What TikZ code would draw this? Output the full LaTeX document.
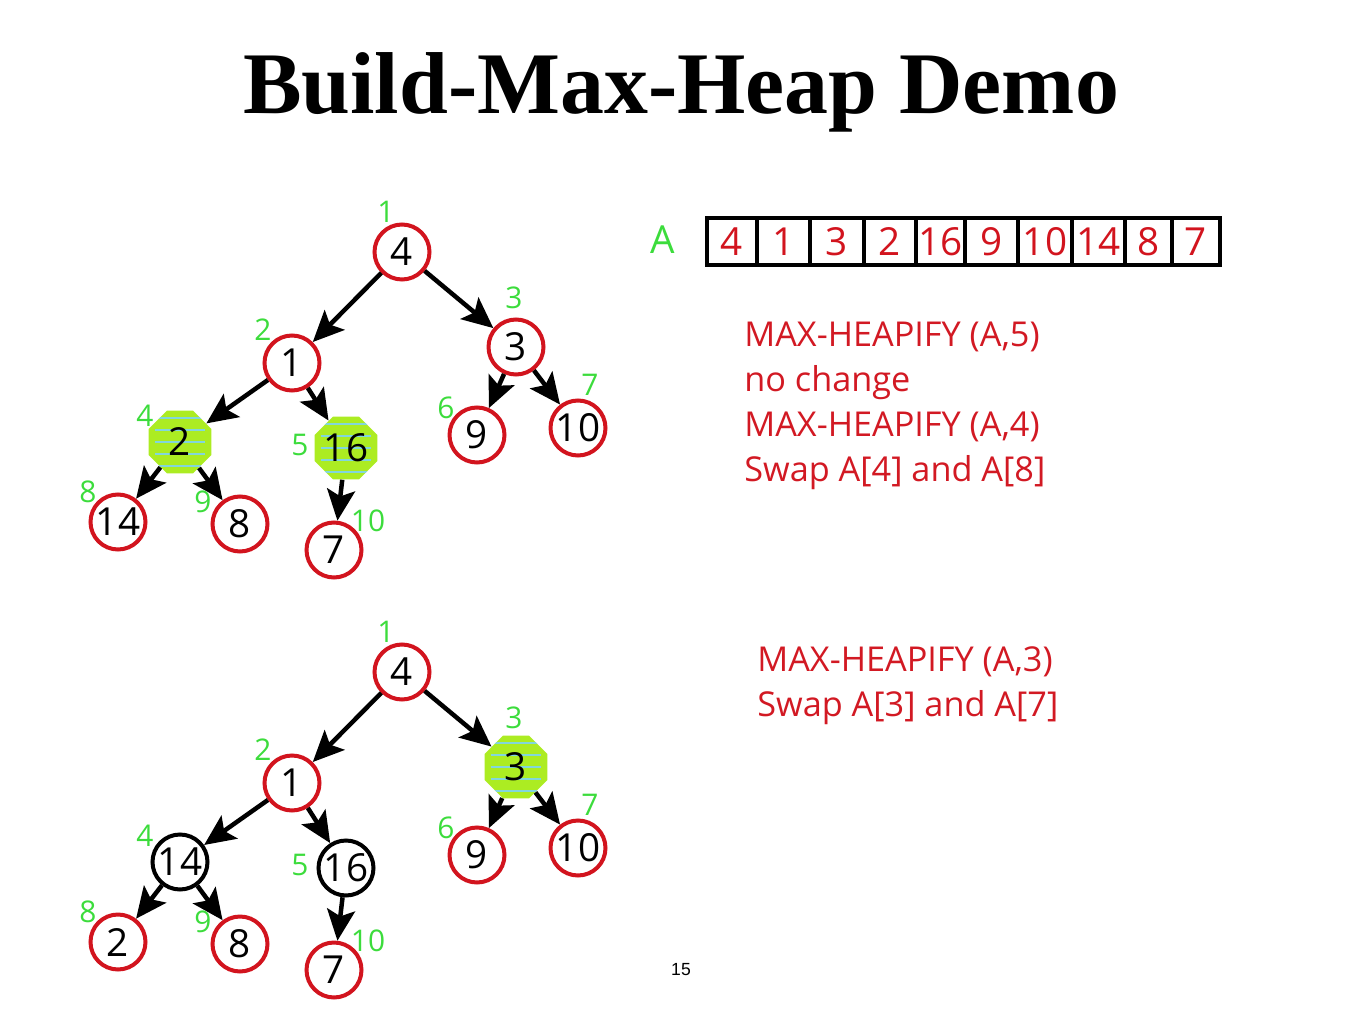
\documentclass[tikz,border=0pt]{standalone}
\usepackage{fontspec}
\setmainfont{Liberation Serif}
\setsansfont{Open Sans}
\newfontfamily\pagefont{Liberation Sans}
\usetikzlibrary{arrows.meta,shapes.geometric,positioning}

\definecolor{nodered}{RGB}{210,20,30}
\definecolor{idxgreen}{RGB}{60,220,60}
\definecolor{txtred}{RGB}{210,25,35}
\definecolor{blob}{RGB}{172,236,34}
\definecolor{stripe}{RGB}{130,214,220}

\tikzset{
  title/.style={font=\bfseries\fontsize{50}{60}\selectfont, inner sep=0pt},
  heap/.style={circle, draw=nodered, line width=0.08cm, minimum size=1.1cm,
    inner sep=0pt, font=\sffamily\fontsize{22}{26}\selectfont},
  moved/.style={heap, draw=black},
  hot/.style={regular polygon, regular polygon sides=8, fill=blob,
    minimum size=1.36cm, inner sep=0pt, font=\sffamily\fontsize{22}{26}\selectfont,
    path picture={
      \foreach \k in {-2,...,2}
        \draw[stripe, line width=0.05cm]
          ([yshift=\k*0.24cm, xshift=0.12cm]path picture bounding box.west) --
          ([yshift=\k*0.24cm, xshift=-0.12cm]path picture bounding box.east);
    }},
  idx/.style={text=idxgreen, font=\sffamily\fontsize{17}{20}\selectfont, inner sep=0pt},
  arr/.style={-{Stealth[length=0.62cm,width=0.56cm,inset=0.13cm]}, line width=0.09cm},
  cell/.style={draw, line width=0.08cm, minimum height=0.94cm, inner sep=0pt,
    text=nodered, font=\sffamily\fontsize{22}{26}\selectfont},
  ops/.style={align=left, text=txtred, inner sep=0pt,
    font=\sffamily\fontsize{19.5}{25.6}\selectfont}
}

\begin{document}
\begin{tikzpicture}[x=0.02cm,y=-0.02cm]
\useasboundingbox (0,0) rectangle (1356,1030);

\node[title] (title) at (681,92) {Build-Max-Heap Demo};

% heap before the step
\foreach \i/\x/\y/\v/\s in {1/402/252/4/heap, 2/292/363/1/heap, 3/516/347/3/heap,
  4/180/442/2/hot, 5/346/448/16/hot, 6/477/435/9/heap, 7/578/428/10/heap,
  8/118/522/14/heap, 9/240/524/8/heap, 10/334/550/7/heap}
  \node[\s] (a\i) at (\x,\y) {\v};

% heap after the swap
\foreach \i/\x/\y/\v/\s in {1/402/252/4/heap, 2/292/363/1/heap, 3/516/347/3/hot,
  4/180/442/14/moved, 5/346/448/16/moved, 6/477/435/9/heap, 7/578/428/10/heap,
  8/118/522/2/heap, 9/240/524/8/heap, 10/334/550/7/heap}
  \node[\s] (b\i) at (\x,\y+420) {\v};

\foreach \t in {a,b}
  \foreach \p/\c in {1/2,1/3,2/4,2/5,3/6,3/7,4/8,4/9,5/10}
    \draw[arr] (\t\p) -- (\t\c);

% index numbers
\foreach \t/\dy in {a/0,b/420}
  \foreach \i/\x/\y in {1/386/212, 2/263/330, 3/514/298, 4/145/416, 5/300/445,
    6/446/408, 7/590/385, 8/88/492, 9/203/502, 10/368/521}
    \node[idx] (i\t\i) at (\x,\y+\dy) {\i};

% array
\node[text=idxgreen, font=\sffamily\fontsize{22}{26}\selectfont] (arrA) at (663,240) {A};
\foreach \i/\l/\r/\v in {1/707/757/4, 2/757/810/1, 3/810/864/3, 4/864/916/2,
  5/916/965/16, 6/965/1018/9, 7/1018/1072/10, 8/1072/1125/14, 9/1125/1172/8,
  10/1172/1220/7}
  \node[cell, minimum width={(\r-\l)*0.02cm}] (c\i) at ({(\l+\r)/2},241.5) {\v};

\node[ops, anchor=north west] (ops1) at (744,322)
  {MAX-HEAPIFY (A,5)\\no change\\MAX-HEAPIFY (A,4)\\Swap A[4] and A[8]};
\node[ops, anchor=north west] (ops2) at (757,646)
  {MAX-HEAPIFY (A,3)\\Swap A[3] and A[7]};

\node[font=\pagefont\fontsize{10}{12}\selectfont] (page) at (681,970) {15};
\end{tikzpicture}
\end{document}
